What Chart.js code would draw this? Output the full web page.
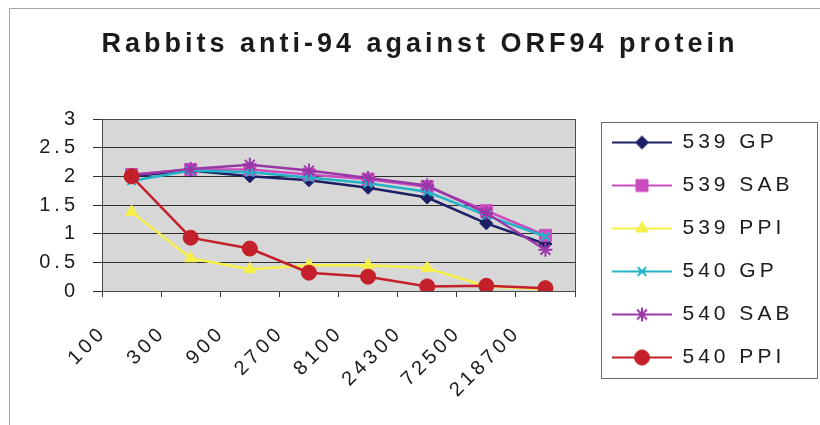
<!DOCTYPE html>
<html>
<head>
<meta charset="utf-8">
<script src="https://cdn.jsdelivr.net/npm/chart.js@4.4.1/dist/chart.umd.min.js"></script>
<style>
  html, body { margin: 0; padding: 0; background: #ffffff; }
  #wrap { position: relative; width: 820px; height: 425px; overflow: hidden; }
  #frame { position: absolute; left: 9px; top: 8px; right: -2px; bottom: -2px;
           border-left: 1px solid #a3a3a3; border-top: 1px solid #a3a3a3; }
  #box { position: absolute; left: 0; top: 0; width: 820px; height: 425px; }
</style>
</head>
<body>
<div id="wrap">
  <div id="frame"></div>
  <div id="box"><canvas id="chart"></canvas></div>
</div>
<script>
// Dilution steps (x categories)
const dilutions = ['100', '300', '900', '2700', '8100', '24300', '72500', '218700'];

// Readings per rabbit / adjuvant
const gp539  = [2.00, 2.10, 2.00, 1.93, 1.80, 1.63, 1.18, 0.82];
const sab539 = [2.03, 2.12, 2.12, 2.03, 1.95, 1.82, 1.40, 0.97];
const ppi539 = [1.38, 0.57, 0.38, 0.45, 0.45, 0.40, 0.08, 0.03];
const gp540  = [1.92, 2.10, 2.07, 1.98, 1.88, 1.73, 1.32, 0.95];
const sab540 = [2.02, 2.13, 2.20, 2.10, 1.97, 1.84, 1.36, 0.72];
const ppi540 = [2.00, 0.93, 0.74, 0.32, 0.25, 0.08, 0.09, 0.05];

const seriesNames = ['539 GP', '539 SAB', '539 PPI', '540 GP', '540 SAB', '540 PPI'];
const seriesData  = [gp539, sab539, ppi539, gp540, sab540, ppi540];

// y axis range
const yMin = 0, yMax = 3, yStep = 0.5;

const looks = [
  { color: '#1c1f66', style: 'rectRot',  radius: 6.5, bw: 1 },
  { color: '#cc4cc0', style: 'rect',     radius: 8.5, bw: 1 },
  { color: '#f6f04a', style: 'triangle', radius: 7,   bw: 1 },
  { color: '#22b3c6', style: 'crossRot', radius: 6,   bw: 2 },
  { color: '#9a37a8', style: 'star',     radius: 7,   bw: 2 },
  { color: '#c3202b', style: 'circle',   radius: 7.5, bw: 1 }
];

Chart.defaults.font.family = "'Liberation Sans', Arial, Helvetica, sans-serif";
Chart.defaults.color = '#1b1b1b';

// Legend sample: short line with the series marker in the middle
function legendIcon(look) {
  const cv = document.createElement('canvas');
  cv.width = 60; cv.height = 20;
  const g = cv.getContext('2d');
  g.strokeStyle = look.color;
  g.lineWidth = 2;
  g.beginPath(); g.moveTo(0, 10); g.lineTo(60, 10); g.stroke();
  g.fillStyle = look.color;
  g.lineWidth = look.bw;
  Chart.helpers.drawPoint(g, { pointStyle: look.style, radius: look.radius, rotation: 0, borderWidth: look.bw }, 30, 10);
  return cv;
}
const icons = looks.map(legendIcon);

const datasets = seriesNames.map((name, i) => ({
  label: name,
  data: seriesData[i],
  borderColor: looks[i].color,
  backgroundColor: looks[i].color,
  borderWidth: 2.5,
  pointStyle: looks[i].style,
  pointRadius: looks[i].radius,
  pointBorderWidth: looks[i].bw,
  pointBackgroundColor: looks[i].color,
  pointBorderColor: looks[i].color,
  tension: 0,
  order: seriesNames.length - i
}));

// Wide text spacing for every label on the canvas
const spacing = {
  id: 'spacing',
  beforeLayout(c) { c.ctx.letterSpacing = '4px'; },
  beforeDraw(c) { c.ctx.letterSpacing = '4px'; }
};

// Legend column: fixed width, items stacked up to a fixed bottom line
const LEGEND_WIDTH = 230;
const LEGEND_BOTTOM = 390;
const legendBox = {
  id: 'legendBox',
  beforeLayout(c) {
    const lg = c.legend;
    if (!lg || lg._fixedWidth) return;
    const fit = lg.fit;
    lg.fit = function () { fit.call(this); this.width = LEGEND_WIDTH; };
    lg._fixedWidth = true;
  },
  afterLayout(c) {
    if (c.legend) c.legend.bottom = LEGEND_BOTTOM;
  }
};

// Grey plot area with a dark frame
const plotArea = {
  id: 'plotArea',
  beforeDraw(c) {
    const a = c.chartArea, ctx = c.ctx;
    ctx.save();
    ctx.fillStyle = '#d7d7d7';
    ctx.fillRect(a.left, a.top, a.right - a.left, a.bottom - a.top);
    ctx.restore();
  },
  beforeDatasetsDraw(c) {
    const a = c.chartArea, ctx = c.ctx;
    ctx.save();
    ctx.strokeStyle = '#4a4a4a';
    ctx.lineWidth = 1;
    ctx.strokeRect(Math.round(a.left) + 0.5, Math.round(a.top) + 0.5,
                   Math.round(a.right - a.left), Math.round(a.bottom - a.top));
    ctx.restore();
  }
};

// Frame around the legend
const legendFrame = {
  id: 'legendFrame',
  afterDraw(c) {
    const lg = c.legend;
    if (!lg || !lg.legendHitBoxes || !lg.legendHitBoxes.length) return;
    const hb = lg.legendHitBoxes;
    const first = hb[0], last = hb[hb.length - 1];
    const x0 = Math.round(lg.left + 11) + 0.5;
    const x1 = c.width - 2.5;
    const y0 = Math.round(first.top - 10) + 0.5;
    const y1 = Math.round(last.top + last.height + 10) + 0.5;
    const ctx = c.ctx;
    ctx.save();
    ctx.strokeStyle = '#6a6a6a';
    ctx.lineWidth = 1;
    ctx.strokeRect(x0, y0, x1 - x0, y1 - y0);
    ctx.restore();
  }
};

new Chart(document.getElementById('chart'), {
  type: 'line',
  data: { labels: dilutions, datasets },
  plugins: [spacing, legendBox, plotArea, legendFrame],
  options: {
    responsive: true,
    maintainAspectRatio: false,
    animation: false,
    devicePixelRatio: 1,
    layout: { padding: { left: 20, right: 0, top: 0, bottom: 0 } },
    plugins: {
      tooltip: { enabled: false },
      title: {
        display: true,
        text: 'Rabbits anti-94 against ORF94 protein',
        color: '#1b1b1b',
        font: { size: 27, weight: 'bold' },
        padding: { top: 28, bottom: 58.6 }
      },
      legend: {
        display: true,
        position: 'right',
        align: 'end',
        labels: {
          usePointStyle: true,
          pointStyleWidth: 60,
          padding: 22,
          color: '#1b1b1b',
          font: { size: 21 },
          generateLabels(chart) {
            const items = Chart.defaults.plugins.legend.labels.generateLabels(chart);
            items.forEach(it => { it.pointStyle = icons[it.datasetIndex]; });
            return items.sort((a, b) => a.datasetIndex - b.datasetIndex);
          }
        }
      }
    },
    scales: {
      x: {
        type: 'category',
        offset: true,
        afterFit(s) { s.height = 134; },
        grid: { display: true, offset: true, drawOnChartArea: false, drawTicks: true,
                tickLength: 6, color: '#3a3a3a' },
        border: { display: true, color: '#3a3a3a' },
        ticks: { minRotation: 45, maxRotation: 45, autoSkip: false, labelOffset: -28,
                 padding: 24, color: '#1b1b1b', font: { size: 20 } }
      },
      y: {
        min: yMin,
        max: yMax,
        afterFit(s) { s.width = 82; },
        grid: { color: '#2e2e2e', lineWidth: 1, drawTicks: true, tickLength: 9 },
        border: { display: true, color: '#3a3a3a' },
        ticks: { stepSize: yStep, padding: 14, color: '#1b1b1b', font: { size: 20 },
                 callback: v => String(+v) }
      },
      gap: {
        type: 'linear',
        position: 'right',
        display: true,
        afterFit(s) { s.width = 15; },
        grid: { display: false, drawTicks: false },
        border: { display: false },
        ticks: { display: false }
      }
    }
  }
});
</script>
</body>
</html>
